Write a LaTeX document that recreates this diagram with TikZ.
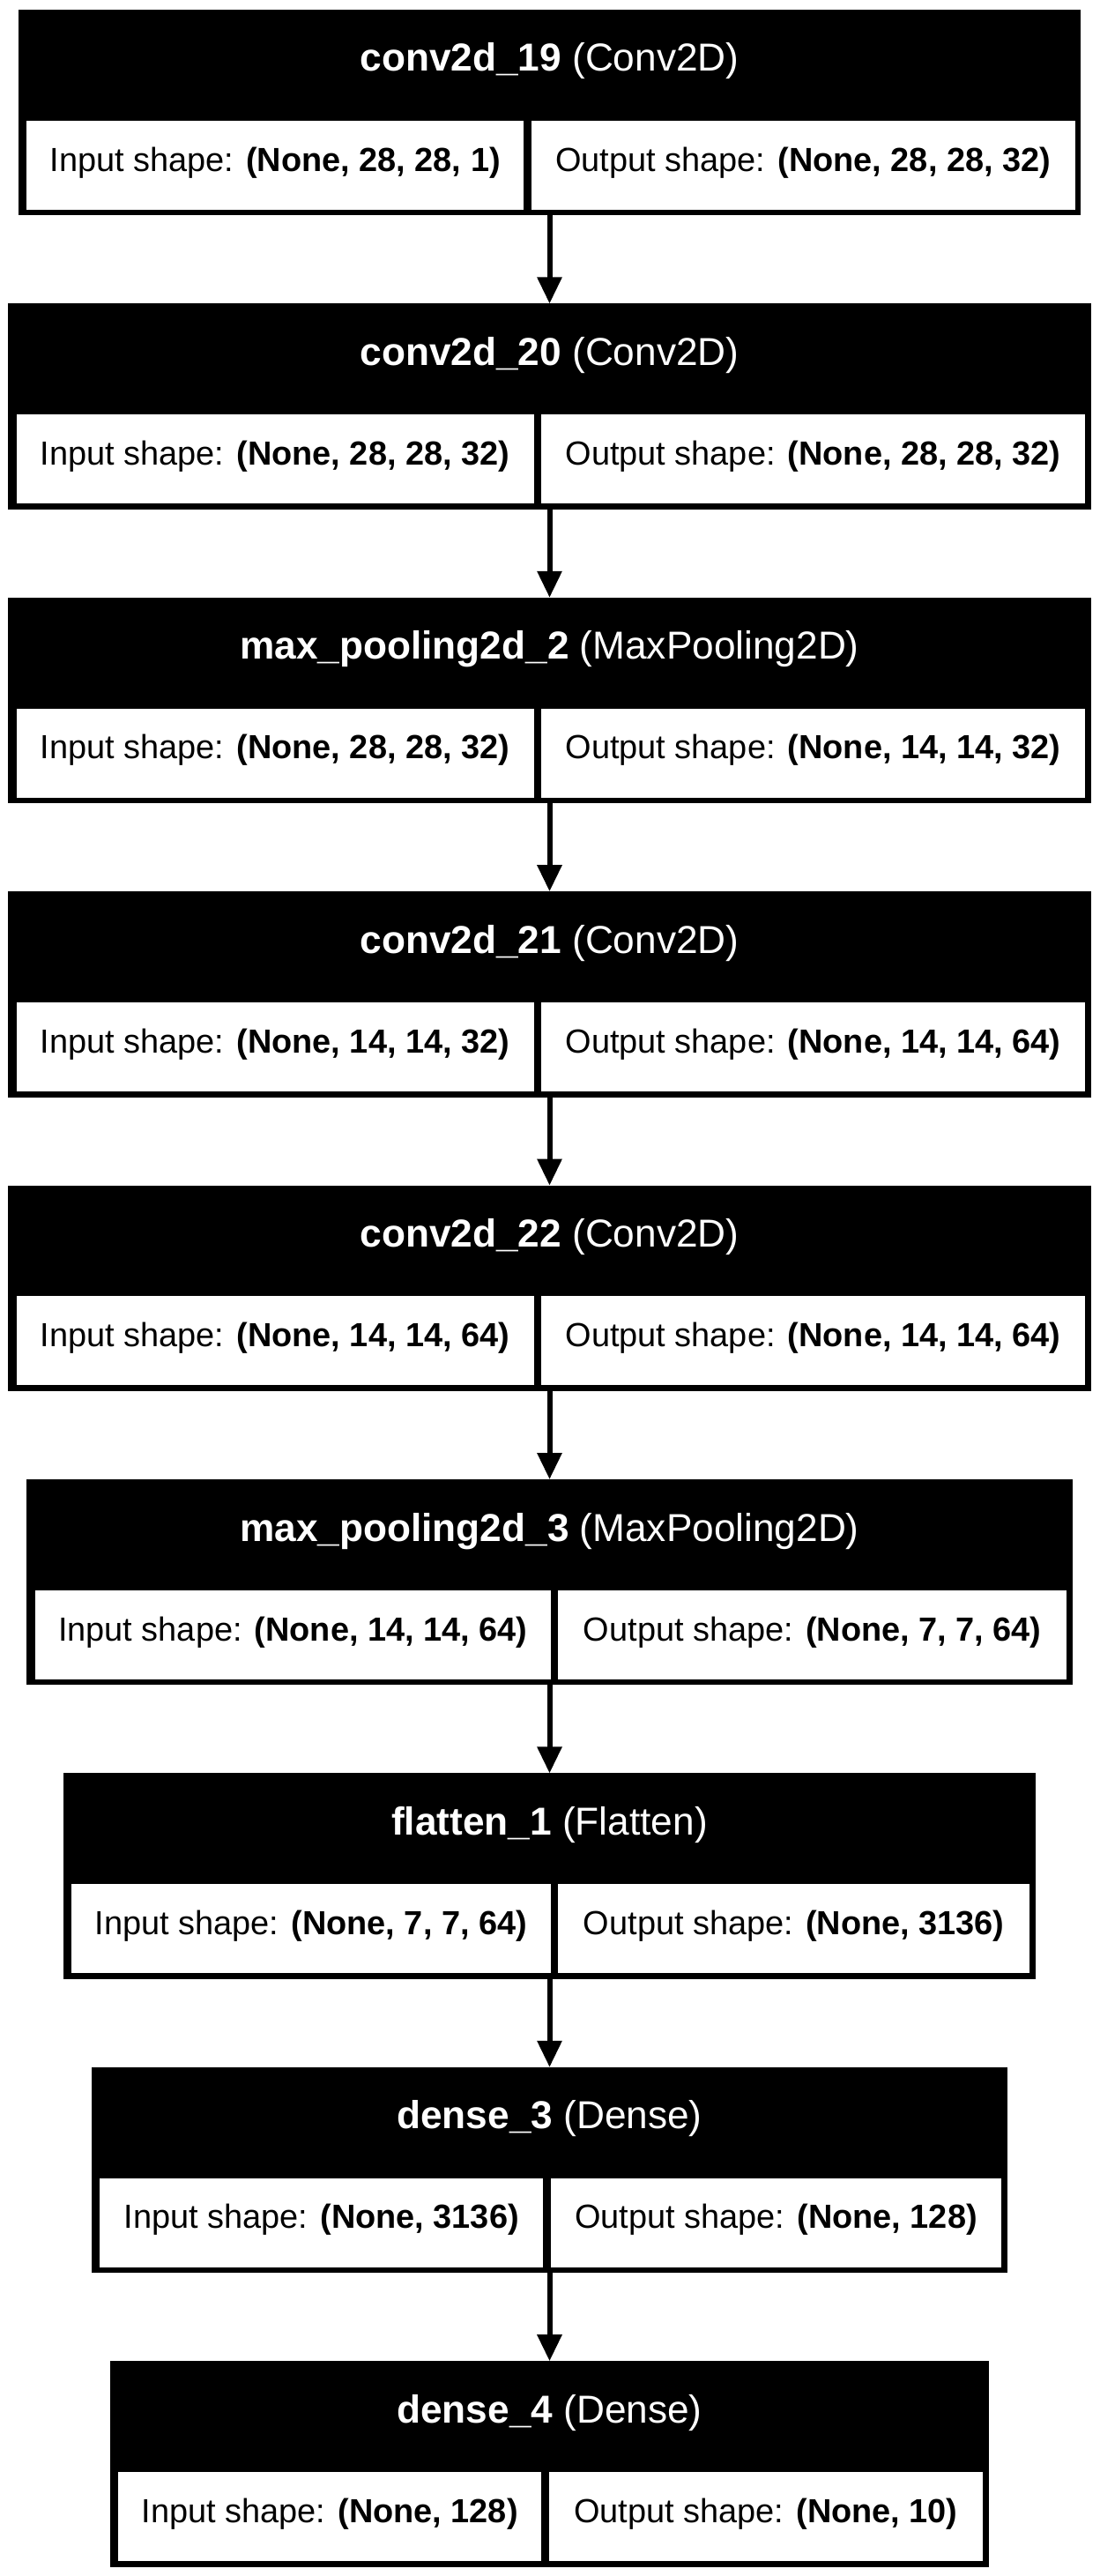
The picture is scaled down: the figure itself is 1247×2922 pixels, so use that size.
\documentclass[tikz,border=0pt]{standalone}
\usepackage{fontspec}
\setmainfont{Liberation Sans}
\usetikzlibrary{arrows.meta,calc}
\tikzset{
  layerbox/.style={fill=black, draw=none, inner sep=0pt, outer sep=0pt, minimum height=233.3pt},
  cellbox/.style={fill=white, draw=none, inner sep=0pt, outer sep=0pt, minimum height=101pt},
  headtext/.style={anchor=base, inner sep=0pt, text=white, font=\fontsize{44.2}{52}\selectfont},
  celltext/.style={anchor=base, inner sep=0pt, text=black, font=\fontsize{37.9}{45}\selectfont},
  flow/.style={line width=6pt, draw=black, -{Triangle[length=30pt,width=27pt]}}
}
% #1 name, #2 index, #3 x0, #4 x1, #5 divider, #6 layer name, #7 class, #8 input, #9 output
\newcommand\nnlayer[9]{%
  \pgfmathsetmacro\nntp{11+333.4*#2}%
  \pgfmathsetmacro\nnbw{#4-#3}%
  \pgfmathsetmacro\nnlw{#5-4.2-#3-9.3}%
  \pgfmathsetmacro\nnrw{#4-6.6-#5-4.2}%
  \node[layerbox, minimum width={\nnbw pt}, anchor=north west] (#1) at (#3,\nntp) {};
  \node[cellbox, minimum width={\nnlw pt}, anchor=north west] (#1-in) at (#3+9.3,\nntp+125.7) {};
  \node[cellbox, minimum width={\nnrw pt}, anchor=north west] (#1-out) at (#5+4.2,\nntp+125.7) {};
  \node[headtext] (#1-title) at ($(#1.north)+(0,70)$) {\textbf{#6} (#7)};
  \node[celltext] (#1-intext) at ($(#1-in.center)+(0,6.8)$) {Input shape: \textbf{#8}};
  \node[celltext] (#1-outtext) at ($(#1-out.center)+(0,6.8)$) {Output shape: \textbf{#9}};
}
\begin{document}
\begin{tikzpicture}[x=1pt, y=-1pt]
  \useasboundingbox[fill=white] (0,0) rectangle (1247,2922);
  \nnlayer{l1}{0}{20.7}{1226.3}{598.5}{conv2d\_19}{Conv2D}{(None, 28, 28, 1)}{(None, 28, 28, 32)}
  \nnlayer{l2}{1}{9.3}{1237.7}{609.7}{conv2d\_20}{Conv2D}{(None, 28, 28, 32)}{(None, 28, 28, 32)}
  \nnlayer{l3}{2}{9.3}{1237.7}{609.7}{max\_pooling2d\_2}{MaxPooling2D}{(None, 28, 28, 32)}{(None, 14, 14, 32)}
  \nnlayer{l4}{3}{9.3}{1237.7}{609.7}{conv2d\_21}{Conv2D}{(None, 14, 14, 32)}{(None, 14, 14, 64)}
  \nnlayer{l5}{4}{9.3}{1237.7}{609.7}{conv2d\_22}{Conv2D}{(None, 14, 14, 64)}{(None, 14, 14, 64)}
  \nnlayer{l6}{5}{30.3}{1216.7}{629.2}{max\_pooling2d\_3}{MaxPooling2D}{(None, 14, 14, 64)}{(None, 7, 7, 64)}
  \nnlayer{l7}{6}{72}{1175}{628.8}{flatten\_1}{Flatten}{(None, 7, 7, 64)}{(None, 3136)}
  \nnlayer{l8}{7}{104}{1143}{620.5}{dense\_3}{Dense}{(None, 3136)}{(None, 128)}
  \nnlayer{l9}{8}{125}{1122}{618.3}{dense\_4}{Dense}{(None, 128)}{(None, 10)}
  \draw[flow] (l1.south) -- (l2.north);
  \draw[flow] (l2.south) -- (l3.north);
  \draw[flow] (l3.south) -- (l4.north);
  \draw[flow] (l4.south) -- (l5.north);
  \draw[flow] (l5.south) -- (l6.north);
  \draw[flow] (l6.south) -- (l7.north);
  \draw[flow] (l7.south) -- (l8.north);
  \draw[flow] (l8.south) -- (l9.north);
\end{tikzpicture}
\end{document}
